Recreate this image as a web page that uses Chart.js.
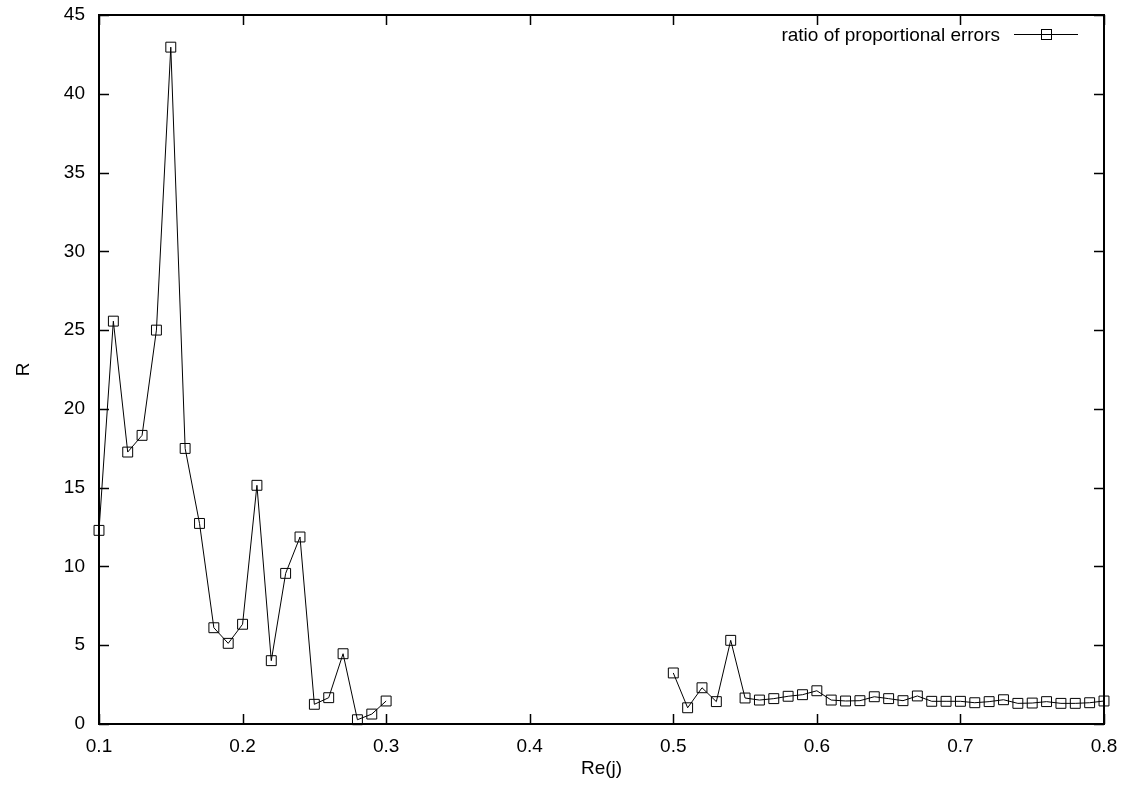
<!DOCTYPE html>
<html>
<head>
<meta charset="utf-8">
<script src="https://cdn.jsdelivr.net/npm/chart.js@4.4.1/dist/chart.umd.min.js"></script>
<style>
  html, body { margin: 0; padding: 0; background: #fff; }
  #wrap { width: 1133px; height: 790px; }
</style>
</head>
<body>
<div id="wrap"><canvas id="c" width="1133" height="790"></canvas></div>
<script>
// ---- data ----
const seriesLabel = 'ratio of proportional errors';
const reJ = [
  0.10, 0.11, 0.12, 0.13, 0.14, 0.15, 0.16, 0.17, 0.18, 0.19,
  0.20, 0.21, 0.22, 0.23, 0.24, 0.25, 0.26, 0.27, 0.28, 0.29, 0.30,
  0.40,
  0.50, 0.51, 0.52, 0.53, 0.54, 0.55, 0.56, 0.57, 0.58, 0.59,
  0.60, 0.61, 0.62, 0.63, 0.64, 0.65, 0.66, 0.67, 0.68, 0.69,
  0.70, 0.71, 0.72, 0.73, 0.74, 0.75, 0.76, 0.77, 0.78, 0.79, 0.80
];
const ratioR = [
  12.29, 25.57, 17.26, 18.32, 25.00, 42.96, 17.49, 12.73, 6.11, 5.12,
  6.33, 15.15, 4.02, 9.56, 11.87, 1.25, 1.67, 4.46, 0.27, 0.63, 1.46,
  null,
  3.24, 1.03, 2.30, 1.42, 5.31, 1.65, 1.52, 1.61, 1.76, 1.86,
  2.11, 1.52, 1.46, 1.48, 1.73, 1.61, 1.48, 1.78, 1.44, 1.44,
  1.44, 1.35, 1.42, 1.54, 1.31, 1.33, 1.42, 1.31, 1.31, 1.35, 1.46
];
const xTickVals = [0.1, 0.2, 0.3, 0.4, 0.5, 0.6, 0.7, 0.8];
const yTickVals = [0, 5, 10, 15, 20, 25, 30, 35, 40, 45];
const xTitle = 'Re(j)';
const yTitle = 'R';

const FONT = '"Liberation Sans", Arial, Helvetica, sans-serif';
const FSIZE = 19;

const points = reJ.map((x, i) => ({ x: x, y: ratioR[i] }));

const framePlugin = {
  id: 'frame',
  afterDraw(chart) {
    const ctx = chart.ctx;
    const a = chart.chartArea;
    const xs = chart.scales.x, ys = chart.scales.y;
    ctx.save();
    ctx.strokeStyle = '#000';
    // ticks (inside, mirrored)
    ctx.lineWidth = 1.5;
    const TL = 10;
    ctx.beginPath();
    xTickVals.forEach(v => {
      const px = Math.round(xs.getPixelForValue(v)) + 0.5;
      ctx.moveTo(px, a.bottom); ctx.lineTo(px, a.bottom - TL);
      ctx.moveTo(px, a.top); ctx.lineTo(px, a.top + TL);
    });
    yTickVals.forEach(v => {
      const py = Math.round(ys.getPixelForValue(v)) + 0.5;
      ctx.moveTo(a.left, py); ctx.lineTo(a.left + TL, py);
      ctx.moveTo(a.right, py); ctx.lineTo(a.right - TL, py);
    });
    ctx.stroke();
    // frame
    ctx.lineWidth = 2;
    ctx.strokeRect(a.left, a.top, a.right - a.left, a.bottom - a.top);
    // legend (gnuplot style: text then sample)
    const ds = chart.data.datasets[0];
    const ly = 34;
    ctx.fillStyle = '#000';
    ctx.font = FSIZE + 'px ' + FONT;
    ctx.textAlign = 'right';
    ctx.textBaseline = 'middle';
    ctx.fillText(ds.label, 1000, ly + 2);
    ctx.lineWidth = 1;
    ctx.beginPath();
    ctx.moveTo(1014, ly + 0.5); ctx.lineTo(1078, ly + 0.5);
    ctx.stroke();
    ctx.strokeRect(1041.5, ly - 4.5, 10, 10);
    ctx.restore();
  }
};

new Chart(document.getElementById('c'), {
  type: 'line',
  data: {
    datasets: [{
      label: seriesLabel,
      data: points,
      borderColor: '#000',
      borderWidth: 1,
      pointStyle: 'rect',
      pointRadius: 7,
      pointBorderWidth: 1,
      pointBorderColor: '#000',
      pointBackgroundColor: 'rgba(0,0,0,0)',
      spanGaps: false,
      tension: 0,
      clip: false
    }]
  },
  options: {
    responsive: false,
    animation: false,
    layout: { padding: { left: 0, right: 29, top: 15, bottom: 0 } },
    plugins: { legend: { display: false }, tooltip: { enabled: false } },
    scales: {
      x: {
        type: 'linear',
        min: 0.1, max: 0.8,
        grid: { display: false, drawTicks: false },
        border: { display: false },
        afterBuildTicks: s => { s.ticks = xTickVals.map(v => ({ value: v })); },
        afterFit: s => { s.height = 66; s.paddingLeft = 0; s.paddingRight = 0; },
        ticks: {
          padding: 11,
          color: '#000',
          font: { family: FONT, size: FSIZE },
          maxRotation: 0,
          autoSkip: false,
          callback: v => Number(v).toFixed(1)
        },
        title: {
          display: true, text: xTitle, color: '#000',
          font: { family: FONT, size: FSIZE },
          padding: { top: 0, bottom: 10 }
        }
      },
      y: {
        type: 'linear',
        min: 0, max: 45,
        grid: { display: false, drawTicks: false },
        border: { display: false },
        afterBuildTicks: s => { s.ticks = yTickVals.map(v => ({ value: v })); },
        afterFit: s => { s.width = 99; s.paddingTop = 0; s.paddingBottom = 0; },
        ticks: {
          padding: 14,
          color: '#000',
          font: { family: FONT, size: FSIZE },
          autoSkip: false,
          callback: v => String(v)
        },
        title: {
          display: true, text: yTitle, color: '#000',
          font: { family: FONT, size: FSIZE },
          padding: { top: 12, bottom: 0 }
        }
      }
    }
  },
  plugins: [framePlugin]
});
</script>
</body>
</html>
